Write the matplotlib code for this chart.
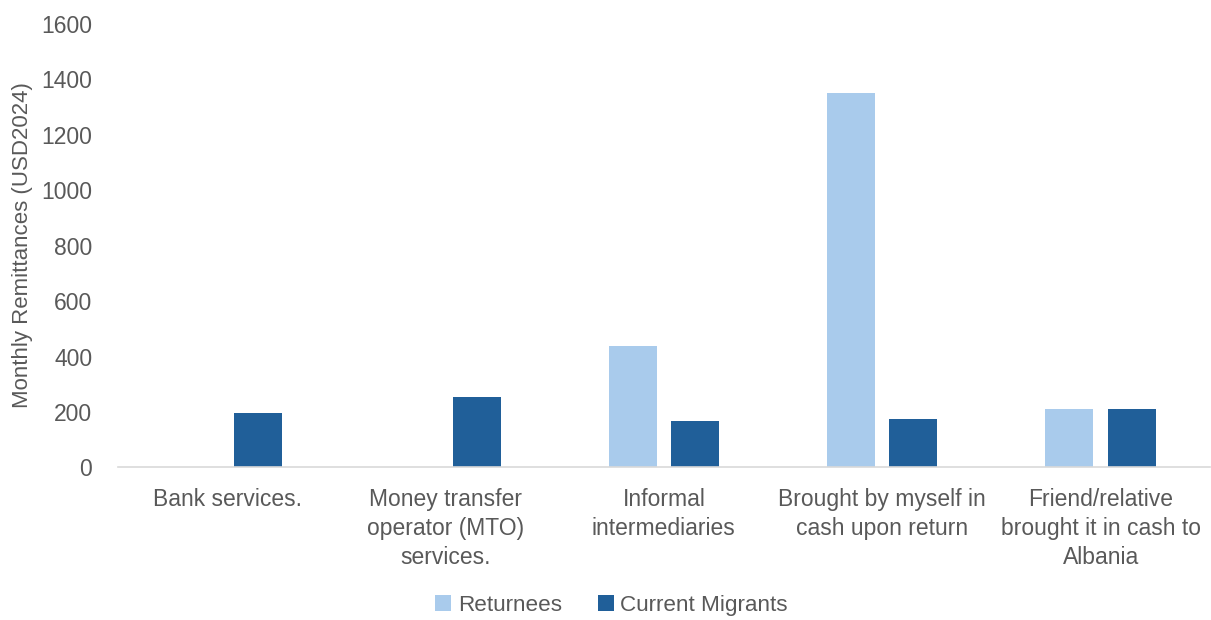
import numpy as np
import matplotlib.pyplot as plt

plt.rcParams['font.family'] = ['Liberation Sans', 'DejaVu Sans']

# data
categories = [
    "Bank services.",
    "Money transfer\noperator (MTO)\nservices.",
    "Informal\nintermediaries",
    "Brought by myself in\ncash upon return",
    "Friend/relative\nbrought it in cash to\nAlbania",
]
returnees = [0, 0, 439, 1350, 211]
current_migrants = [196, 255, 168, 173, 211]

text_color = '#595959'

fig = plt.figure(figsize=(12.11, 6.2), dpi=100)
ax = fig.add_axes([0.0974, 0.246, 0.9016, 0.716])

x = np.arange(len(categories))
w = 0.22
ax.bar(x - 0.143, returnees, width=w, color='#a9cbec', label='Returnees')
ax.bar(x + 0.143, current_migrants, width=w, color='#205f99', label='Current Migrants')

ax.set_xlim(-0.5, len(categories) - 0.5)
ax.set_ylim(0, 1600)
ax.set_yticks(range(0, 1601, 200))
ax.set_xticks(x)
ax.set_xticklabels(categories, linespacing=1.33)

ax.tick_params(axis='both', length=0, labelsize=16.5, colors=text_color)
ax.tick_params(axis='x', pad=15)
ax.tick_params(axis='y', pad=18.5)

for s in ['top', 'right', 'left']:
    ax.spines[s].set_visible(False)
ax.spines['bottom'].set_color('#d9d9d9')
ax.spines['bottom'].set_linewidth(1.2)

ax.set_ylabel("Monthly Remittances (USD2024)", fontsize=16, color=text_color, labelpad=6)

fig.legend(
    loc='lower center',
    bbox_to_anchor=(0.505, -0.026),
    ncol=2,
    frameon=False,
    fontsize=16.2,
    labelcolor=text_color,
    handlelength=0.7,
    handleheight=0.7,
    handletextpad=0.3,
    columnspacing=1.6,
)

fig.savefig("out.png", dpi=100)
